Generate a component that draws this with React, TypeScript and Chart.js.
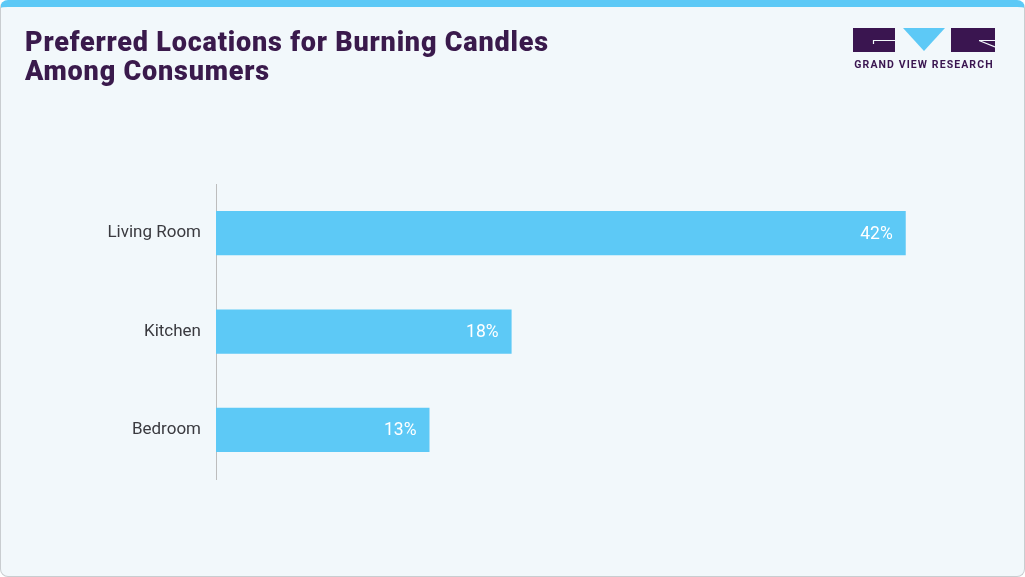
import React, { useEffect, useRef } from "react";
import { Chart, registerables } from "chart.js";

Chart.register(...registerables);

const categories = ["Living Room", "Kitchen", "Bedroom"];
const shares = [42, 18, 13];
const axisMax = 45;
const titleLines = ["Preferred Locations for Burning Candles", "Among Consumers"];

const BAR_COLOR = "#5DC9F6";
const TEXT_COLOR = "#3a3a3f";
const TITLE_COLOR = "#3a1a4c";
const LABEL_FONT = "Roboto, 'Liberation Sans', sans-serif";

const valueLabels = {
  id: "valueLabels",
  afterDatasetsDraw(chart: any) {
    const ctx = chart.ctx;
    const meta = chart.getDatasetMeta(0);
    ctx.save();
    ctx.fillStyle = "#ffffff";
    ctx.font = `17.5px ${LABEL_FONT}`;
    ctx.textAlign = "right";
    ctx.textBaseline = "middle";
    meta.data.forEach((bar: any, i: number) => {
      ctx.fillText(`${shares[i]}%`, bar.x - 13, bar.y + 1);
    });
    ctx.restore();
  },
};

export default function App() {
  const ref = useRef<HTMLCanvasElement | null>(null);

  useEffect(() => {
    document.body.style.margin = "0";
    const chart = new Chart(ref.current as HTMLCanvasElement, {
      type: "bar",
      data: {
        labels: categories,
        datasets: [
          {
            data: shares,
            backgroundColor: BAR_COLOR,
            borderWidth: 0,
            categoryPercentage: 1,
            barPercentage: 0.45,
          },
        ],
      },
      options: {
        indexAxis: "y",
        animation: false,
        responsive: false,
        maintainAspectRatio: false,
        layout: { padding: { left: 0, right: 70, top: 184, bottom: 98 } },
        plugins: {
          legend: { display: false },
          tooltip: { enabled: false },
        },
        scales: {
          x: { display: false, min: 0, max: axisMax },
          y: {
            afterFit: (scale: any) => {
              scale.width = 216;
            },
            grid: { display: false, drawTicks: false },
            border: { display: true, color: "#bdbdbd", width: 1 },
            ticks: {
              padding: 15,
              color: TEXT_COLOR,
              font: { family: LABEL_FONT, size: 17 },
            },
          },
        },
      },
      plugins: [valueLabels],
    });
    return () => chart.destroy();
  }, []);

  return (
    <div
      style={{
        position: "fixed",
        left: 0,
        top: 0,
        width: 1025,
        height: 577,
        background: "#ffffff",
        overflow: "hidden",
      }}
    >
      <div
        style={{
          position: "absolute",
          left: 0,
          top: 0,
          width: 1025,
          height: 577,
          boxSizing: "border-box",
          border: "1px solid #c9cdd0",
          borderTop: "7px solid #5DC9F6",
          borderRadius: 8,
          background: "#F2F8FB",
        }}
      />
      <canvas
        ref={ref}
        width={1025}
        height={577}
        style={{ position: "absolute", left: 0, top: 0, width: 1025, height: 577 }}
      />
      <div
        style={{
          position: "absolute",
          left: 25,
          top: 28,
          fontFamily: LABEL_FONT,
          fontWeight: 900,
          fontSize: 27,
          letterSpacing: 0.8,
          lineHeight: "29px",
          color: TITLE_COLOR,
          whiteSpace: "nowrap",
        }}
      >
        {titleLines.map((t) => (
          <div key={t}>{t}</div>
        ))}
      </div>
      <svg
        style={{ position: "absolute", left: 853, top: 28 }}
        width={142}
        height={42}
        viewBox="0 0 142 42"
      >
        <rect x={0} y={0} width={42} height={24} fill="#3a1550" />
        <path d="M20 12.5 H42 M20.5 12 V16" stroke="#F2F8FB" strokeWidth={1.2} fill="none" />
        <polygon points="50,0 92,0 71,23" fill={BAR_COLOR} />
        <rect x={98} y={0} width={44} height={24} fill="#3a1550" />
        <path d="M126 12.5 H142 M126 12.5 L142 19" stroke="#F2F8FB" strokeWidth={1.2} fill="none" />
        <text
          x={71}
          y={39.5}
          textAnchor="middle"
          fontFamily="Roboto, sans-serif"
          fontWeight={700}
          fontSize={10.5}
          letterSpacing={1.1}
          fill="#3a1550"
        >
          GRAND VIEW RESEARCH
        </text>
      </svg>
    </div>
  );
}
